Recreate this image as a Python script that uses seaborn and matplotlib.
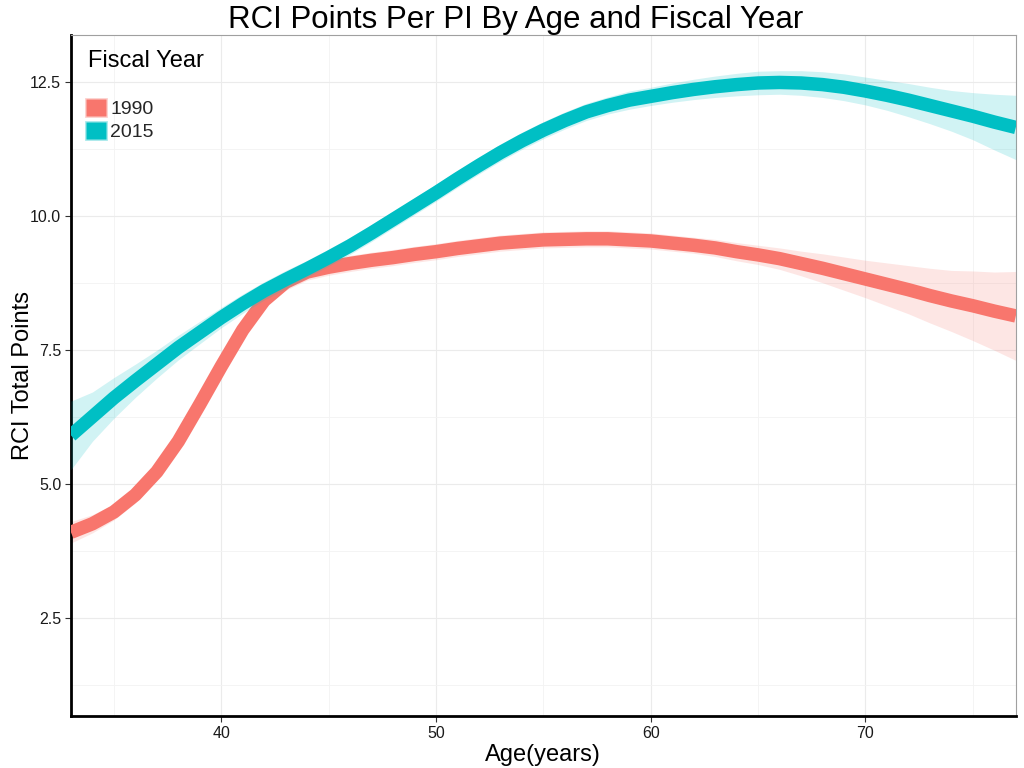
import numpy as np
import pandas as pd
import matplotlib
matplotlib.use("Agg")
import matplotlib.pyplot as plt
import matplotlib.colors as mcolors
import seaborn as sns
from matplotlib.patches import Patch

# ---- data (smoothed fits and their CI half-widths) ----
age = list(range(33, 78))

fit_1990 = [4.10, 4.26, 4.48, 4.80, 5.23, 5.80, 6.49, 7.20, 7.88, 8.43, 8.77, 8.96,
            9.05, 9.12, 9.18, 9.23, 9.29, 9.34, 9.40, 9.45, 9.50, 9.53, 9.56, 9.57,
            9.58, 9.58, 9.56, 9.54, 9.50, 9.46, 9.41, 9.34, 9.28, 9.21, 9.12, 9.03,
            8.93, 8.83, 8.73, 8.63, 8.52, 8.42, 8.33, 8.23, 8.14]
ci_1990 = [0.20, 0.17, 0.15, 0.15, 0.15, 0.15, 0.15, 0.15, 0.15, 0.15, 0.15, 0.15,
           0.15, 0.15, 0.15, 0.15, 0.15, 0.15, 0.15, 0.15, 0.15, 0.15, 0.15, 0.15,
           0.15, 0.15, 0.15, 0.15, 0.15, 0.15, 0.16, 0.17, 0.18, 0.20, 0.23, 0.27,
           0.31, 0.35, 0.40, 0.45, 0.51, 0.57, 0.65, 0.73, 0.83]

fit_2015 = [5.91, 6.26, 6.61, 6.93, 7.24, 7.55, 7.83, 8.11, 8.37, 8.61, 8.82, 9.02,
            9.23, 9.45, 9.69, 9.94, 10.19, 10.44, 10.70, 10.95, 11.19, 11.41, 11.61,
            11.79, 11.95, 12.07, 12.17, 12.24, 12.31, 12.37, 12.42, 12.46, 12.49,
            12.50, 12.49, 12.46, 12.41, 12.34, 12.26, 12.17, 12.07, 11.97, 11.87,
            11.76, 11.66]
ci_2015 = [0.64, 0.46, 0.38, 0.31, 0.26, 0.23, 0.21, 0.19, 0.18, 0.17, 0.17, 0.16,
           0.16, 0.16, 0.16, 0.16, 0.16, 0.16, 0.16, 0.16, 0.16, 0.16, 0.16, 0.16,
           0.16, 0.16, 0.17, 0.17, 0.18, 0.19, 0.20, 0.21, 0.22, 0.22, 0.23, 0.24,
           0.25, 0.26, 0.28, 0.31, 0.34, 0.38, 0.44, 0.52, 0.60]

years = ["1990", "2015"]
colors = {"1990": "#F8766D", "2015": "#00BFC4"}

x_ticks = [40, 50, 60, 70]
x_minor = [35, 45, 55, 65, 75]
y_ticks = [2.5, 5.0, 7.5, 10.0, 12.5]
y_tick_labels = ["2.5", "5.0", "7.5", "10.0", "12.5"]
y_minor = [1.25, 3.75, 6.25, 8.75, 11.25]

df = pd.DataFrame({
    "Age": age * 2,
    "Points": fit_1990 + fit_2015,
    "lo": list(np.array(fit_1990) - np.array(ci_1990)) + list(np.array(fit_2015) - np.array(ci_2015)),
    "hi": list(np.array(fit_1990) + np.array(ci_1990)) + list(np.array(fit_2015) + np.array(ci_2015)),
    "Fiscal Year": ["1990"] * len(age) + ["2015"] * len(age),
})

sns.set_theme(style="white")
plt.rcParams["font.family"] = ["Liberation Sans", "DejaVu Sans"]

fig = plt.figure(figsize=(10.24, 7.68), dpi=100)
ax = fig.add_axes([0.0693, 0.0677, 0.9227, 0.8863])

z = 2
for yr in years:
    sub = df[df["Fiscal Year"] == yr]
    ax.fill_between(sub["Age"], sub["lo"], sub["hi"], color=colors[yr], alpha=0.18,
                    linewidth=0, zorder=z)
    sns.lineplot(data=sub, x="Age", y="Points", color=colors[yr], linewidth=9.7,
                 ax=ax, legend=False, solid_capstyle="butt",
                 solid_joinstyle="round", zorder=z + 1)
    z += 2

ax.set_xlim(33, 77)
ax.set_ylim(0.67, 13.38)
ax.set_xticks(x_ticks)
ax.set_xticks(x_minor, minor=True)
ax.set_yticks(y_ticks)
ax.set_yticklabels(y_tick_labels)
ax.set_yticks(y_minor, minor=True)
ax.grid(True, which="major", color="#ebebeb", linewidth=0.8, zorder=0)
ax.grid(True, which="minor", color="#f3f3f3", linewidth=0.6, zorder=0)
ax.set_axisbelow(True)

for side in ["left", "bottom"]:
    ax.spines[side].set_color("black")
    ax.spines[side].set_linewidth(2.0)
for side in ["top", "right"]:
    ax.spines[side].set_color("#a0a0a0")
    ax.spines[side].set_linewidth(0.8)

ax.tick_params(axis="both", which="major", direction="out", length=4, width=0.8,
               color="#333333", labelsize=11.5, labelcolor="#1a1a1a", pad=3,
               bottom=True, left=True)
ax.tick_params(which="minor", length=0)

ax.set_xlabel("Age(years)", fontsize=17, color="black", labelpad=2)
ax.set_ylabel("RCI Total Points", fontsize=17, color="black")
ax.yaxis.set_label_coords(-0.039, 0.5)
fig.suptitle("RCI Points Per PI By Age and Fiscal Year", fontsize=22.5, x=0.504,
             y=0.993, color="black")

# legend (ggplot-like: title above, filled keys with light border)
fig.text(88 / 1024, 1 - 61 / 768, "Fiscal Year", fontsize=17, va="center",
         ha="left", color="black")
handles = [Patch(facecolor=colors[y],
                 edgecolor=(*mcolors.to_rgb(colors[y]), 0.35), linewidth=2.0)
           for y in years]
leg = fig.legend(handles, years, loc="upper left",
                 bbox_to_anchor=(86 / 1024, 1 - 99 / 768),
                 bbox_transform=fig.transFigure, frameon=False, fontsize=14,
                 handlelength=1.05, handleheight=0.95, handletextpad=0.2,
                 labelspacing=0.2, borderpad=0, borderaxespad=0)

fig.savefig("out.png", dpi=100)
